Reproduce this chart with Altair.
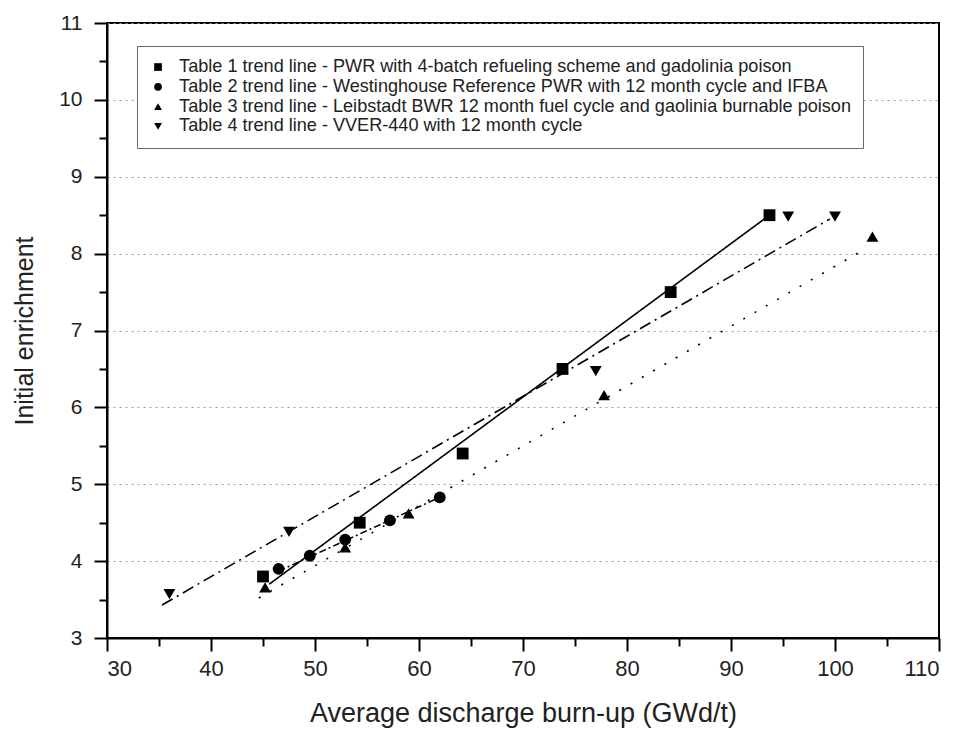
import altair as alt
import pandas as pd

# ---- data ----
series_names = [
    "Table 1 trend line - PWR with 4-batch refueling scheme and gadolinia poison",
    "Table 2 trend line - Westinghouse Reference PWR with 12 month cycle and IFBA",
    "Table 3 trend line - Leibstadt BWR 12 month fuel cycle and gaolinia burnable poison",
    "Table 4 trend line - VVER-440 with 12 month cycle",
]
shapes = ["square", "circle", "triangle-up", "triangle-down"]

t1_x = [45.0, 54.3, 64.2, 73.8, 84.2, 93.7]
t1_y = [3.80, 4.50, 5.40, 6.50, 7.50, 8.50]
t2_x = [46.5, 49.5, 52.9, 57.2, 62.0]
t2_y = [3.90, 4.07, 4.28, 4.53, 4.83]
t3_x = [45.2, 52.9, 59.0, 77.8, 103.6]
t3_y = [3.66, 4.18, 4.62, 6.16, 8.22]
t4_x = [36.0, 47.5, 77.0, 95.5, 100.0]
t4_y = [3.57, 4.38, 6.47, 8.48, 8.48]

# trend line end points
line1_x = [45.6, 93.7]
line1_y = [3.70, 8.50]
line2_x = [46.5, 62.3]
line2_y = [3.87, 4.85]
line3_x = [44.6, 102.5]
line3_y = [3.52, 8.03]
line4_x = [35.3, 99.5]
line4_y = [3.43, 8.45]

x_major = [30, 40, 50, 60, 70, 80, 90, 100, 110]
x_minor = [35, 45, 55, 65, 75, 85, 95, 105]
y_major = [3, 4, 5, 6, 7, 8, 9, 10, 11]
y_minor = [3.5, 4.5, 5.5, 6.5, 7.5, 8.5, 9.5, 10.5]

# ---- build tables ----
rows = []
for name, xs, ys in zip(series_names, [t1_x, t2_x, t3_x, t4_x], [t1_y, t2_y, t3_y, t4_y]):
    for xv, yv in zip(xs, ys):
        rows.append({"series": name, "x": xv, "y": yv})
pts = pd.DataFrame(rows)

FONT = "Liberation Sans"
TXT = "#222"

xscale = alt.Scale(domain=[30, 110], nice=False, zero=False)
yscale = alt.Scale(domain=[3, 11], nice=False, zero=False)

x_major_axis = alt.Axis(
    orient="bottom", values=x_major, format="d",
    title="Average discharge burn-up (GWd/t)",
    titleFontSize=27, titleFont=FONT, titleFontWeight="normal", titleColor=TXT,
    titlePadding=21,
    labelFont=FONT, labelFontSize=22, labelColor=TXT, labelPadding=7,
    tickColor="black", tickWidth=2, tickSize=13,
    domainColor="black", domainWidth=2, grid=False,
)
y_major_axis = alt.Axis(
    orient="left", values=y_major, format="d",
    title="Initial enrichment",
    titleFontSize=25, titleFont=FONT, titleFontWeight="normal", titleColor=TXT,
    titlePadding=21,
    labelFont=FONT, labelFontSize=21, labelColor=TXT, labelPadding=12,
    tickColor="black", tickWidth=2, tickSize=13,
    domainColor="black", domainWidth=2,
    grid=True, gridColor="#9a9a9a", gridDash=[2, 4], gridWidth=1.2,
)
x_minor_axis = alt.Axis(
    orient="bottom", values=x_minor, labels=False, title=None, domain=False, grid=False,
    tickColor="black", tickWidth=2, tickSize=8,
)
y_minor_axis = alt.Axis(
    orient="left", values=y_minor, labels=False, title=None, domain=False, grid=False,
    tickColor="black", tickWidth=2, tickSize=8,
)

points = alt.Chart(pts).mark_point(filled=True, color="black", opacity=1, size=140).encode(
    x=alt.X("x:Q", scale=xscale, axis=x_major_axis),
    y=alt.Y("y:Q", scale=yscale, axis=y_major_axis),
    shape=alt.Shape(
        "series:N",
        scale=alt.Scale(domain=series_names, range=shapes),
        legend=alt.Legend(
            title=None, orient="none", legendX=30, legendY=23,
            labelFont=FONT, labelFontSize=18.1, labelColor=TXT, labelLimit=900,
            symbolSize=60, symbolFillColor="black", symbolStrokeColor="black",
            rowPadding=0.8, padding=12,
            strokeColor="#666", fillColor="white", cornerRadius=0,
            labelOffset=12,
        ),
    ),
)

line_specs = [
    (line1_x, line1_y, [1, 0]),
    (line2_x, line2_y, [7, 3, 2, 3]),
    (line3_x, line3_y, [2, 11]),
    (line4_x, line4_y, [12, 5, 2, 5]),
]
lines = []
for i, (lx, ly, dash) in enumerate(line_specs):
    df = pd.DataFrame({"x": lx, "y": ly})
    if i == 0:
        xa, ya = x_minor_axis, y_minor_axis
    else:
        xa, ya = None, None
    lines.append(
        alt.Chart(df).mark_line(color="black", strokeWidth=1.6, strokeDash=dash).encode(
            x=alt.X("x:Q", scale=xscale, axis=xa), y=alt.Y("y:Q", scale=yscale, axis=ya)
        )
    )

chart = alt.layer(*lines, points).resolve_axis(x="independent", y="independent").properties(
    width=832, height=615,
    autosize=alt.AutoSizeParams(type="none"),
    padding={"left": 99, "top": 15, "right": 10, "bottom": 94},
    background="white",
).configure_view(stroke="black", strokeWidth=2)

chart.save("out.html", embed_options={"renderer": "svg", "actions": False})
